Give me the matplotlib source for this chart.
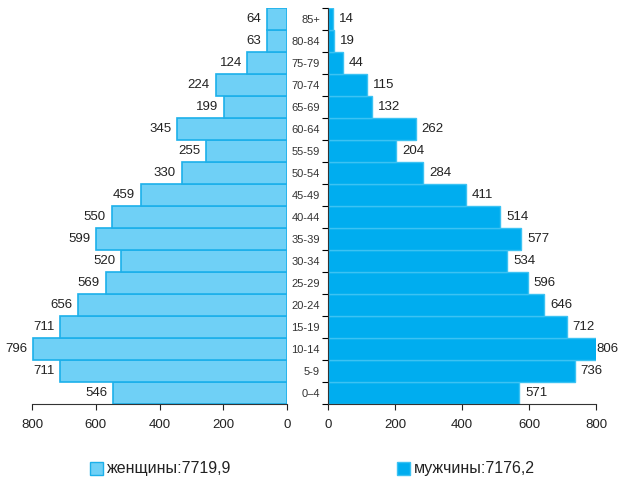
import matplotlib.pyplot as plt
from matplotlib.patches import Rectangle
import numpy as np

plt.rcParams['font.family'] = ['Liberation Sans', 'DejaVu Sans']

# Возрастные группы (снизу вверх)
ages = ['0–4', '5-9', '10-14', '15-19', '20-24', '25-29', '30-34', '35-39', '40-44',
        '45-49', '50-54', '55-59', '60-64', '65-69', '70-74', '75-79', '80-84', '85+']
women = [546, 711, 796, 711, 656, 569, 520, 599, 550, 459, 330, 255, 345, 199, 224, 124, 63, 64]
men = [571, 736, 806, 712, 646, 596, 534, 577, 514, 411, 284, 204, 262, 132, 115, 44, 19, 14]
legend_labels = ['женщины:7719,9', 'мужчины:7176,2']

c_women, e_women = '#6fd0f6', '#1cb0ea'
c_men, e_men = '#00adef', '#3cc2f3'

fig = plt.figure(figsize=(6.22, 4.78), dpi=100)
W, H = 622, 478
bottom = 1 - 404 / H
top = 1 - 8 / H
axL = fig.add_axes([32 / W, bottom, 255 / W, top - bottom])
axR = fig.add_axes([328 / W, bottom, 268 / W, top - bottom])

y = np.arange(len(ages))

axL.barh(y, women, height=1.0, color=c_women, edgecolor=e_women, linewidth=1.2)
axL.set_xlim(800, 0)
axR.barh(y, men, height=1.0, color=c_men, edgecolor=e_men, linewidth=1.0)
axR.set_xlim(0, 800)

for ax in (axL, axR):
    ax.set_ylim(-0.5, len(ages) - 0.5)
    ax.set_xticks([0, 200, 400, 600, 800])
    ax.tick_params(axis='x', labelsize=9.5, length=4, width=0.8, pad=7, colors='#222222')
    for s in ('top', 'right'):
        ax.spines[s].set_visible(False)
    ax.spines['bottom'].set_color('#333333')
    ax.spines['bottom'].set_linewidth(0.8)

axL.spines['left'].set_visible(False)
axL.set_yticks([])

axR.spines['left'].set_color('#333333')
axR.spines['left'].set_linewidth(0.8)
axR.set_yticks(np.arange(-0.5, len(ages), 1.0))
axR.set_yticklabels([])
axR.tick_params(axis='y', length=4, width=0.8)

# Подписи возрастных групп
for i, a in enumerate(ages):
    axR.text(-8 / 268 * 800, i - 0.05, a, ha='right', va='center', fontsize=8,
             color='#333333', clip_on=False)

# Значения на барах
for i, v in enumerate(women):
    axL.text(v + 18, i, str(v), ha='right', va='center', fontsize=9.5, color='#222222')
for i, v in enumerate(men):
    axR.text(min(v + 18, 802), i, str(v), ha='left', va='center', fontsize=9.5,
             color='#222222', clip_on=False)

# Легенда
for x0, col, ec, lab in [(90, c_women, e_women, legend_labels[0]),
                         (397, c_men, e_men, legend_labels[1])]:
    fig.add_artist(Rectangle((x0 / W, 1 - 475 / H), 13 / W, 13 / H, transform=fig.transFigure,
                             facecolor=col, edgecolor=ec, linewidth=1))
    fig.text((x0 + 17) / W, 1 - 469 / H, lab, ha='left', va='center', fontsize=11.5,
             color='#222222')

fig.savefig('out.png', dpi=100, facecolor='white')
